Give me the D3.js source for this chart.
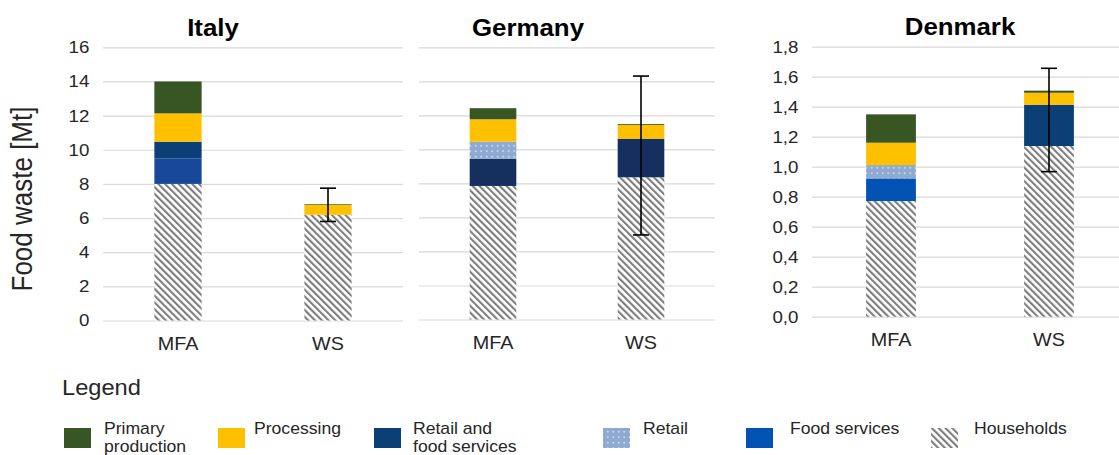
<!DOCTYPE html>
<html>
<head>
<meta charset="utf-8">
<script src="https://cdn.jsdelivr.net/npm/d3@7"></script>
<style>
  html, body { margin: 0; padding: 0; background: #ffffff; }
  svg { display: block; font-family: "Liberation Sans", Arial, sans-serif; }
</style>
</head>
<body>
<svg id="chart" width="1119" height="455"></svg>
<script>
// ---------------- DATA ----------------
const countries = ["Italy", "Germany", "Denmark"];
const methods = ["MFA", "WS"];
// stack order, bottom to top
const categories = ["Households", "Food services", "Retail and food services", "Retail", "Processing", "Primary production"];
// one value per bar: Italy MFA, Italy WS, Germany MFA, Germany WS, Denmark MFA, Denmark WS
const households        = [8.00, 6.19, 7.85, 8.36, 0.771, 1.138];
const foodServices      = [1.50, 0.00, 0.00, 0.00, 0.151, 0.000];
const retailFoodServ    = [0.97, 0.00, 1.59, 2.27, 0.000, 0.275];
const retail            = [0.00, 0.00, 1.01, 0.00, 0.089, 0.000];
const processing        = [1.66, 0.58, 1.32, 0.81, 0.149, 0.080];
const primaryProduction = [1.87, 0.04, 0.65, 0.05, 0.189, 0.014];
const errorLow  = [null, 5.80, null, 4.97, null, 0.967];
const errorHigh = [null, 7.75, null, 14.31, null, 1.656];
const ticksLarge = [0, 2, 4, 6, 8, 10, 12, 14, 16];
const ticksSmall = [0, 0.2, 0.4, 0.6, 0.8, 1.0, 1.2, 1.4, 1.6, 1.8];
const tickLabelsLarge = ["0", "2", "4", "6", "8", "10", "12", "14", "16"];
const tickLabelsSmall = ["0,0", "0,2", "0,4", "0,6", "0,8", "1,0", "1,2", "1,4", "1,6", "1,8"];
const legendOrder = ["Primary production", "Processing", "Retail and food services", "Retail", "Food services", "Households"];
const legendLabels = [["Primary", "production"], ["Processing"], ["Retail and", "food services"], ["Retail"], ["Food services"], ["Households"]];
const yTitle = "Food waste [Mt]";

const seriesValues = {
  "Households": households,
  "Food services": foodServices,
  "Retail and food services": retailFoodServ,
  "Retail": retail,
  "Processing": processing,
  "Primary production": primaryProduction
};

// ---------------- STYLE / LAYOUT ----------------
const SX = 1.1; // horizontal text stretch seen in the reference
const colors = {
  "Households": "url(#hatch)",
  "Food services": "#0052b3",
  "Retail and food services": "#0b3f76",
  "Retail": "url(#dots)",
  "Processing": "#ffc000",
  "Primary production": "#375623"
};
const colorOverrides = {
  "Italy|MFA|Food services": "#17489a",
  "Germany|MFA|Retail and food services": "#152f5e",
  "Germany|WS|Retail and food services": "#152f5e"
};
const panels = [
  {x0: 103, x1: 403, yBottom: 320.5, yTop: 47.3, domain: [0, 16], ticks: ticksLarge, labels: tickLabelsLarge, showLabels: true, titleX: 213, titleY: 36},
  {x0: 419, x1: 715, yBottom: 319.5, yTop: 47.3, domain: [0, 16], ticks: ticksLarge, labels: tickLabelsLarge, showLabels: false, titleX: 528, titleY: 36},
  {x0: 812, x1: 1128, yBottom: 316.7, yTop: 46.7, domain: [0, 1.8], ticks: ticksSmall, labels: tickLabelsSmall, showLabels: true, titleX: 960, titleY: 35}
];

const svg = d3.select("#chart");
const defs = svg.append("defs");

const hatch = defs.append("pattern").attr("id", "hatch").attr("patternUnits", "userSpaceOnUse")
  .attr("width", 4.8).attr("height", 4.8).attr("patternTransform", "rotate(-45)");
hatch.append("rect").attr("width", 4.8).attr("height", 4.8).attr("fill", "#ffffff");
hatch.append("rect").attr("x", 0).attr("width", 2.1).attr("height", 4.8).attr("fill", "#7d7d7d");

const dots = defs.append("pattern").attr("id", "dots").attr("patternUnits", "userSpaceOnUse")
  .attr("width", 5.5).attr("height", 5.5);
dots.append("rect").attr("width", 5.5).attr("height", 5.5).attr("fill", "#8faad0");
dots.append("circle").attr("cx", 2.7).attr("cy", 2.7).attr("r", 0.8).attr("fill", "#e8eef7");

function stretchText(g) {
  g.each(function() {
    const t = d3.select(this);
    const x = +t.attr("x") || 0;
    const y = +t.attr("y") || 0;
    t.attr("x", null).attr("y", null)
     .attr("transform", `translate(${x},${y}) scale(${SX},1)`);
  });
}

panels.forEach((p, pi) => {
  const country = countries[pi];
  const y = d3.scaleLinear().domain(p.domain).range([p.yBottom, p.yTop]);
  const x = d3.scaleBand().domain(methods).range([p.x0, p.x1]).paddingInner(0.685).paddingOuter(0.3425);

  // gridlines + y tick labels
  const yAxis = d3.axisLeft(y).tickValues(p.ticks)
    .tickFormat((d, i) => p.showLabels ? p.labels[i] : "")
    .tickSize(-(p.x1 - p.x0)).tickPadding(13.6);
  const gy = svg.append("g").attr("transform", `translate(${p.x0},0)`).call(yAxis);
  gy.select(".domain").remove();
  gy.selectAll(".tick line").attr("stroke", "#d9d9d9").attr("stroke-width", 1.2);
  gy.selectAll(".tick text").attr("font-size", 17).attr("fill", "#262626")
    .attr("font-family", "'Liberation Sans', Arial, sans-serif")
    .each(function() {
      const t = d3.select(this);
      const xx = +t.attr("x");
      t.attr("transform", `scale(${SX},1)`).attr("x", xx / SX);
    });

  // x axis labels
  const xAxis = d3.axisBottom(x).tickSize(0).tickPadding(16.8);
  const gx = svg.append("g").attr("transform", `translate(0,${p.yBottom})`).call(xAxis);
  gx.select(".domain").remove();
  gx.selectAll(".tick text").attr("font-size", 18).attr("fill", "#262626")
    .attr("font-family", "'Liberation Sans', Arial, sans-serif")
    .attr("transform", `scale(${SX},1)`);
  gx.selectAll(".tick").each(function(d) {
    const tx = x(d) + x.bandwidth() / 2;
    d3.select(this).attr("transform", `translate(${tx},0)`);
  });

  // stacked bars
  methods.forEach((m, mi) => {
    const idx = pi * 2 + mi;
    let cum = 0;
    categories.forEach(cat => {
      const v = seriesValues[cat][idx];
      if (!v) return;
      const key = `${country}|${m}|${cat}`;
      svg.append("rect")
        .attr("x", x(m)).attr("width", x.bandwidth())
        .attr("y", y(cum + v)).attr("height", y(cum) - y(cum + v))
        .attr("fill", colorOverrides[key] || colors[cat]);
      cum += v;
    });
    if (errorLow[idx] != null) {
      const cx = x(m) + x.bandwidth() / 2;
      const eg = svg.append("g").attr("stroke", "#000000").attr("stroke-width", 1.6);
      eg.append("line").attr("x1", cx).attr("x2", cx).attr("y1", y(errorLow[idx])).attr("y2", y(errorHigh[idx]));
      eg.append("line").attr("x1", cx - 8).attr("x2", cx + 8).attr("y1", y(errorLow[idx])).attr("y2", y(errorLow[idx]));
      eg.append("line").attr("x1", cx - 8).attr("x2", cx + 8).attr("y1", y(errorHigh[idx])).attr("y2", y(errorHigh[idx]));
    }
  });

  // title
  svg.append("text").attr("x", p.titleX).attr("y", p.titleY)
    .attr("text-anchor", "middle").attr("font-weight", "bold").attr("font-size", 23.5).attr("fill", "#000000")
    .text(country).call(stretchText);
});

// y axis title
svg.append("text")
  .attr("transform", `translate(32,199) scale(${SX},1) rotate(-90)`)
  .attr("text-anchor", "middle").attr("font-size", 26).attr("fill", "#262626")
  .text(yTitle);

// legend
svg.append("text").attr("x", 62).attr("y", 395).attr("font-size", 21.5).attr("fill", "#262626")
  .text("Legend").call(stretchText);

const legendSwatchX = [64, 218, 374, 603, 746, 931];
const legendTextX = [104, 254, 413, 643, 790, 974];
legendOrder.forEach((cat, i) => {
  svg.append("rect").attr("x", legendSwatchX[i]).attr("y", 428).attr("width", 27).attr("height", 20)
    .attr("fill", colors[cat]);
  legendLabels[i].forEach((line, li) => {
    svg.append("text").attr("x", legendTextX[i]).attr("y", 434 + li * 18)
      .attr("font-size", 16).attr("fill", "#262626").text(line).call(stretchText);
  });
});
</script>
</body>
</html>
